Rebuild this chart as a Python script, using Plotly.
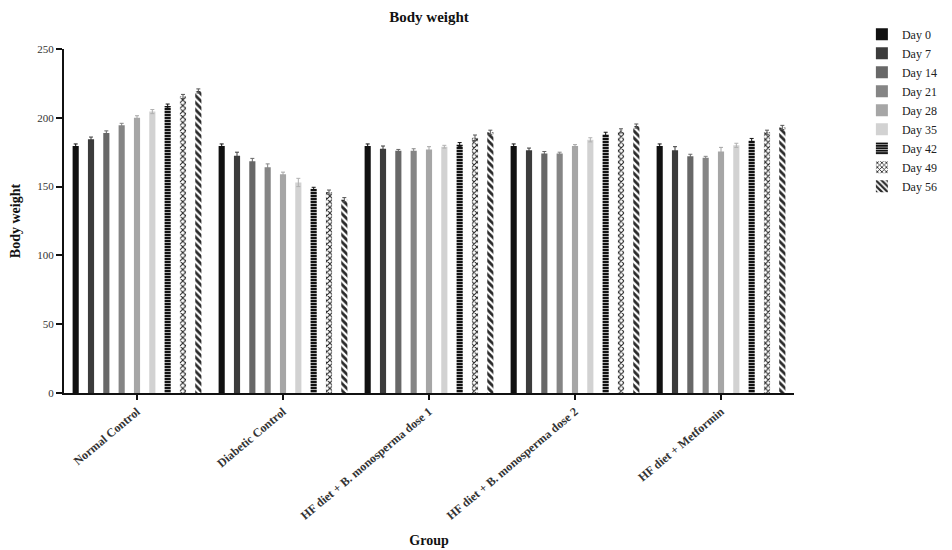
import plotly.graph_objects as go

groups = ["Normal Control", "Diabetic Control", "HF diet + B. monosperma dose 1",
          "HF diet + B. monosperma dose 2", "HF diet + Metformin"]
days = ["Day 0", "Day 7", "Day 14", "Day 21", "Day 28", "Day 35", "Day 42", "Day 49", "Day 56"]

day0 = [179.5, 179.5, 179.5, 179.5, 179.5]
day7 = [184.5, 172.5, 177.5, 176.5, 176.5]
day14 = [189.0, 168.5, 176.0, 174.0, 172.0]
day21 = [194.5, 164.0, 176.0, 174.0, 171.0]
day28 = [200.0, 159.0, 177.0, 179.5, 175.5]
day35 = [204.5, 153.0, 179.0, 184.0, 180.0]
day42 = [208.5, 148.5, 180.5, 188.0, 183.5]
day49 = [215.5, 146.0, 185.5, 190.5, 189.5]
day56 = [219.5, 140.5, 189.5, 194.0, 193.0]

err0 = [1.5, 1.5, 1.5, 1.5, 1.5]
err7 = [1.5, 2.5, 2.0, 1.5, 2.5]
err14 = [1.5, 2.0, 1.0, 1.5, 1.5]
err21 = [1.5, 2.5, 1.5, 1.0, 1.0]
err28 = [1.5, 1.5, 2.0, 1.0, 3.0]
err35 = [1.5, 3.0, 1.0, 1.5, 1.5]
err42 = [1.5, 1.0, 1.5, 1.5, 1.5]
err49 = [1.5, 1.5, 2.0, 1.5, 1.5]
err56 = [1.5, 1.5, 1.5, 1.5, 1.5]

values = [day0, day7, day14, day21, day28, day35, day42, day49, day56]
errors = [err0, err7, err14, err21, err28, err35, err42, err49, err56]

styles = [
    dict(color="#111111"),
    dict(color="#3c3c3c"),
    dict(color="#686868"),
    dict(color="#858585"),
    dict(color="#a6a6a6"),
    dict(color="#d2d2d2"),
    dict(color="#111111", pattern=dict(shape="-", fgcolor="#e0e0e0", bgcolor="#111111",
                                        size=3, solidity=0.25, fillmode="replace")),
    dict(color="#ffffff", pattern=dict(shape="x", fgcolor="#222222", bgcolor="#ffffff",
                                        size=4, solidity=0.45, fillmode="replace")),
    dict(color="#ffffff", pattern=dict(shape="\\", fgcolor="#2a2a2a", bgcolor="#ffffff",
                                        size=5, solidity=0.55, fillmode="replace")),
]
err_colors = ["#111111", "#3c3c3c", "#686868", "#858585", "#a6a6a6", "#b0b0b0",
              "#111111", "#555555", "#555555"]

fig = go.Figure()
for name, vals, errs, st, ec in zip(days, values, errors, styles, err_colors):
    marker = dict(color=st["color"], line=dict(width=0))
    if "pattern" in st:
        marker["pattern"] = st["pattern"]
    fig.add_trace(go.Bar(
        name=name, x=groups, y=vals, marker=marker,
        error_y=dict(type="data", array=errs, visible=True, color=ec, thickness=1, width=2),
    ))

serif = "Liberation Serif, Times New Roman, serif"
fig.update_layout(
    width=952, height=550,
    margin=dict(l=56, r=166, t=37, b=165),
    paper_bgcolor="white", plot_bgcolor="white",
    barmode="group", bargap=0.055, bargroupgap=0.6,
    font=dict(family=serif, color="#222222", size=11),
    title=dict(text="<b>Body weight</b>", x=0.5, xref="paper", xanchor="center",
               y=0.984, yref="container", yanchor="middle",
               font=dict(family=serif, size=15, color="#111111")),
    showlegend=True,
    legend=dict(x=1.093, xanchor="left", y=1.085, yanchor="top",
                font=dict(family=serif, size=12, color="#222222"),
                bgcolor="rgba(0,0,0,0)", tracegroupgap=0, itemwidth=30),
    xaxis=dict(
        showline=True, linecolor="#111111", linewidth=2, ticks="outside",
        ticklen=5, tickwidth=2, tickcolor="#111111", tickangle=-40,
        tickfont=dict(family=serif, size=12, color="#333333", weight="bold"),
        range=[-0.5, 4.5], automargin=False,
        title=dict(text="<b>Group</b>", font=dict(family=serif, size=14, color="#111111"),
                   standoff=14),
    ),
    yaxis=dict(
        range=[0, 250], tickvals=[0, 50, 100, 150, 200, 250],
        showline=True, linecolor="#111111", linewidth=2, ticks="outside",
        ticklen=6, tickwidth=2, tickcolor="#111111", showgrid=False, zeroline=False,
        tickfont=dict(family=serif, size=11, color="#333333"), automargin=False,
        title=dict(text="<b>Body weight</b>", font=dict(family=serif, size=14, color="#111111"),
                   standoff=14),
    ),
)

fig.write_html("out.html")
